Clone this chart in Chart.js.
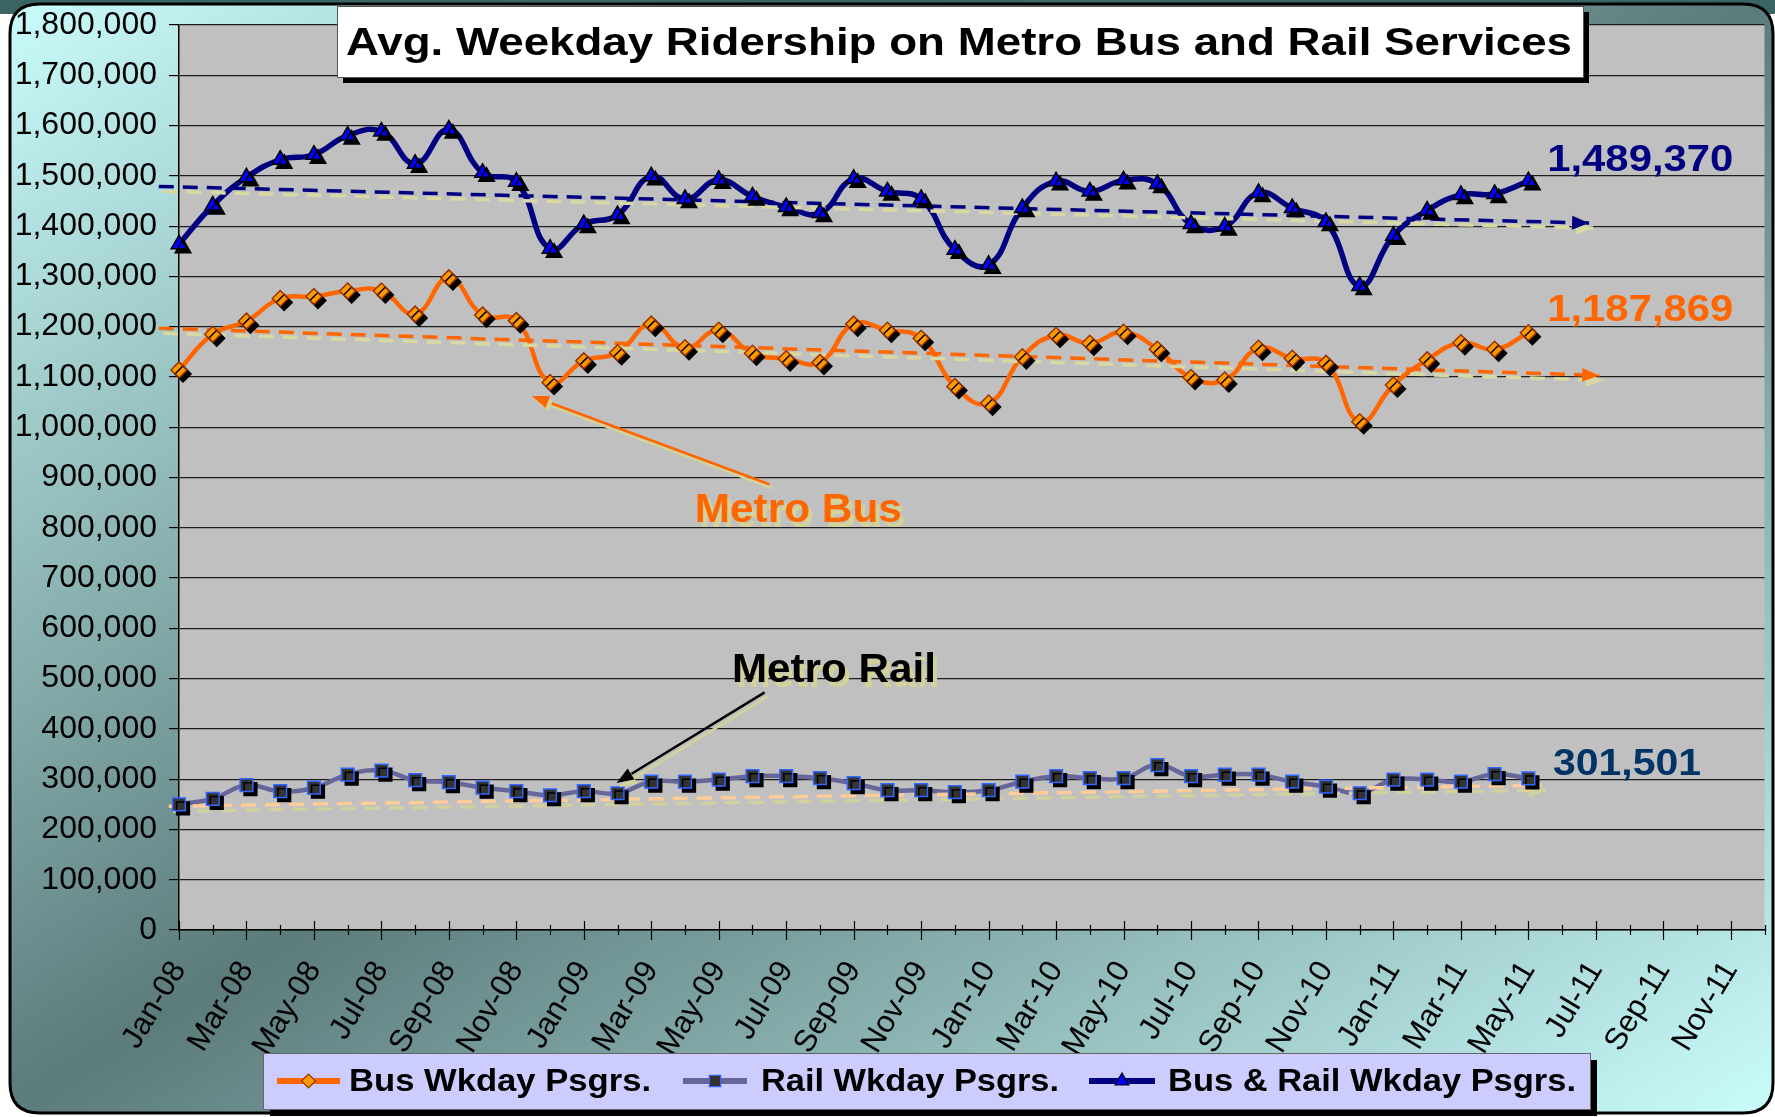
<!DOCTYPE html>
<html>
<head>
<meta charset="utf-8">
<title>Avg. Weekday Ridership on Metro Bus and Rail Services</title>
<script src="https://cdn.jsdelivr.net/npm/chart.js@4.4.1/dist/chart.umd.min.js"></script>
<style>
  html, body { margin: 0; padding: 0; background: #fff; }
  canvas { display: block; }
</style>
</head>
<body>
<canvas id="ridership" width="1775" height="1117"></canvas>
<script>
// month categories on the x axis (Jan-08 .. Dec-11)
const months = [
  'Jan-08', 'Feb-08', 'Mar-08', 'Apr-08', 'May-08', 'Jun-08', 'Jul-08', 'Aug-08', 'Sep-08', 'Oct-08', 'Nov-08', 'Dec-08',
  'Jan-09', 'Feb-09', 'Mar-09', 'Apr-09', 'May-09', 'Jun-09', 'Jul-09', 'Aug-09', 'Sep-09', 'Oct-09', 'Nov-09', 'Dec-09',
  'Jan-10', 'Feb-10', 'Mar-10', 'Apr-10', 'May-10', 'Jun-10', 'Jul-10', 'Aug-10', 'Sep-10', 'Oct-10', 'Nov-10', 'Dec-10',
  'Jan-11', 'Feb-11', 'Mar-11', 'Apr-11', 'May-11', 'Jun-11', 'Jul-11', 'Aug-11', 'Sep-11', 'Oct-11', 'Nov-11', 'Dec-11'
];

// avg weekday passengers, Jan-08 .. May-11
const busRiders = [
  1114000, 1185000, 1211000, 1256000, 1260000, 1271000, 1271000, 1225000, 1297000, 1223000, 1212000, 1089000,
  1132000, 1148000, 1205000, 1158000, 1193000, 1147000, 1136000, 1129000, 1205000, 1193000, 1177000, 1081000,
  1048000, 1140000, 1183000, 1167000, 1189000, 1155000, 1099000, 1094000, 1157000, 1137000, 1127000, 1011000,
  1084000, 1134000, 1168000, 1155000, 1187869
];
const railRiders = [
  250000, 261000, 288000, 276000, 283000, 309000, 317000, 298000, 294000, 283000, 276000, 268000,
  276000, 272000, 295000, 295000, 299000, 306000, 306000, 302000, 292000, 278000, 278000, 274000,
  278000, 295000, 306000, 302000, 302000, 328000, 306000, 309000, 309000, 295000, 285000, 272000,
  299000, 299000, 295000, 310000, 301501
];
const totalRiders = [
  1364000, 1441000, 1497000, 1532000, 1542000, 1580000, 1588000, 1524000, 1592000, 1506000, 1488000, 1355000,
  1404000, 1422000, 1499000, 1454000, 1492000, 1459000, 1438000, 1426000, 1494000, 1469000, 1454000, 1353000,
  1323000, 1436000, 1489000, 1469000, 1491000, 1484000, 1404000, 1399000, 1466000, 1436000, 1408000, 1281000,
  1381000, 1431000, 1462000, 1464000, 1489370
];

// linear trend lines: [month index, value] at start and arrow tip
const totalTrend = [[-0.6, 1479000], [41.8, 1406000]];
const busTrend = [[-0.6, 1197000], [42.1, 1103000]];
const railTrend = [[-0.3, 246000], [40.4, 288000]];

const seriesNames = ['Bus Wkday Psgrs.', 'Rail Wkday Psgrs.', 'Bus & Rail Wkday Psgrs.'];
const chartTitle = 'Avg. Weekday Ridership on Metro Bus and Rail Services';

const FONT = "'Liberation Sans', Arial, sans-serif";
Chart.defaults.font.family = FONT;
Chart.defaults.color = '#000';

const toPoints = arr => arr.map((v, i) => ({ x: i, y: v }));
const toTrend = arr => arr.map(([x, y]) => ({ x, y }));

const pointSet = (data, style, radius, fill, border) => ({
  data: toPoints(data), showLine: false, pointStyle: style,
  pointRadius: radius, pointHoverRadius: radius,
  pointBackgroundColor: fill, pointBorderColor: border, pointBorderWidth: 1.5,
  clip: false, shadow: { color: '#000', x: 4, y: 4 }
});
const lineSet = (data, color, width) => ({
  data: toPoints(data), borderColor: color, borderWidth: width,
  pointRadius: 0, tension: 0.45, fill: false, clip: 8
});
const trendSet = (data, color, shade) => ({
  data: toTrend(data), borderColor: color, borderWidth: 3.5, borderDash: [15, 9],
  pointRadius: 0, tension: 0, fill: false, clip: false,
  shadow: { color: shade, x: 4, y: 5 }, arrow: color
});

// text notes placed in data coordinates (month index, value)
const notes = [
  { text: '1,489,370', x: 40.56, y: 1530000, w: 186, size: 36, color: '#000080' },
  { text: '1,187,869', x: 40.56, y: 1231000, w: 186, size: 36, color: '#ff6600' },
  { text: '301,501', x: 40.73, y: 328500, w: 148, size: 36, color: '#003366' },
  { text: 'Metro Bus', x: 15.29, y: 834000, w: 207, size: 40, color: '#ff6600', shade: '#d2d29a' },
  { text: 'Metro Rail', x: 16.39, y: 515000, w: 204, size: 40, color: '#000', shade: '#d2d29a' }
];
const pointers = [
  { from: [17.5, 886500], to: [10.46, 1062000], color: '#ff6600' },
  { from: [17.36, 472500], to: [12.97, 292500], color: '#000' }
];

function fitText(ctx, text, x, y, w) {
  const m = ctx.measureText(text).width;
  ctx.save();
  ctx.translate(x, y);
  ctx.scale(w / m, 1);
  ctx.textAlign = 'left';
  ctx.fillText(text, 0, 0);
  ctx.restore();
}

function arrowHead(ctx, x1, y1, x2, y2, len, wid, color) {
  const ang = Math.atan2(y2 - y1, x2 - x1);
  ctx.save();
  ctx.translate(x2, y2);
  ctx.rotate(ang);
  ctx.beginPath();
  ctx.moveTo(0, 0);
  ctx.lineTo(-len, -wid / 2);
  ctx.lineTo(-len, wid / 2);
  ctx.closePath();
  ctx.fillStyle = color;
  ctx.fill();
  ctx.restore();
}

function roundRectPath(ctx, x, y, w, h, r) {
  ctx.beginPath();
  ctx.moveTo(x + r, y);
  ctx.lineTo(x + w - r, y);
  ctx.quadraticCurveTo(x + w, y, x + w, y + r);
  ctx.lineTo(x + w, y + h - r);
  ctx.quadraticCurveTo(x + w, y + h, x + w - r, y + h);
  ctx.lineTo(x + r, y + h);
  ctx.quadraticCurveTo(x, y + h, x, y + h - r);
  ctx.lineTo(x, y + r);
  ctx.quadraticCurveTo(x, y, x + r, y);
  ctx.closePath();
}

const decor = {
  id: 'decor',
  beforeDraw(chart) {
    const { ctx, chartArea: a, width: W, height: H } = chart;
    ctx.save();
    ctx.fillStyle = '#fff';
    ctx.fillRect(0, 0, W, H);
    ctx.fillStyle = '#3b6565';
    ctx.fillRect(0, 0, W, 14);
    roundRectPath(ctx, 10, 4, W - 12, H - 8, 30);
    ctx.save();
    ctx.scale(W, H);
    const g = ctx.createLinearGradient(0, 0, 1, 1);
    g.addColorStop(0, '#cbfdfd');
    g.addColorStop(0.5, '#5c7b7b');
    g.addColorStop(1, '#cbfdfd');
    ctx.fillStyle = g;
    ctx.fill();
    ctx.restore();
    ctx.lineWidth = 3;
    ctx.strokeStyle = '#000';
    ctx.stroke();
    ctx.fillStyle = '#c0c0c0';
    ctx.fillRect(a.left, a.top, a.right - a.left, a.bottom - a.top);
    ctx.restore();
  },
  beforeDatasetDraw(chart, args) {
    const s = chart.data.datasets[args.index].shadow;
    if (!s) return;
    const ctx = chart.ctx;
    ctx.save();
    ctx.shadowColor = s.color;
    ctx.shadowOffsetX = s.x;
    ctx.shadowOffsetY = s.y;
    ctx.shadowBlur = 0;
  },
  afterDatasetDraw(chart, args) {
    const ds = chart.data.datasets[args.index];
    if (!ds.shadow) return;
    const ctx = chart.ctx;
    if (ds.arrow) {
      const pts = chart.getDatasetMeta(args.index).data;
      const p1 = pts[pts.length - 2], p2 = pts[pts.length - 1];
      arrowHead(ctx, p1.x, p1.y, p2.x, p2.y, 17, 14, ds.arrow);
    }
    ctx.restore();
  },
  afterDatasetsDraw(chart) {
    const { ctx, scales: { x, y } } = chart;
    ctx.save();
    // pointer arrows
    pointers.forEach(p => {
      const x1 = x.getPixelForValue(p.from[0]), y1 = y.getPixelForValue(p.from[1]);
      const x2 = x.getPixelForValue(p.to[0]), y2 = y.getPixelForValue(p.to[1]);
      ctx.save();
      ctx.shadowColor = '#d2d29a';
      ctx.shadowOffsetX = 3;
      ctx.shadowOffsetY = 4;
      ctx.strokeStyle = p.color;
      ctx.lineWidth = 2.5;
      const ang = Math.atan2(y2 - y1, x2 - x1);
      ctx.beginPath();
      ctx.moveTo(x1, y1);
      ctx.lineTo(x2 - Math.cos(ang) * 10, y2 - Math.sin(ang) * 10);
      ctx.stroke();
      arrowHead(ctx, x1, y1, x2, y2, 17, 13, p.color);
      ctx.restore();
    });
    // text notes
    ctx.textBaseline = 'middle';
    notes.forEach(n => {
      const px = x.getPixelForValue(n.x), py = y.getPixelForValue(n.y);
      ctx.font = `bold ${n.size}px ${FONT}`;
      if (n.shade) {
        ctx.fillStyle = n.shade;
        fitText(ctx, n.text, px + 4, py + 5, n.w);
      }
      ctx.fillStyle = n.color;
      fitText(ctx, n.text, px, py, n.w);
    });
    ctx.restore();
  },
  afterDraw(chart) {
    const { ctx, scales: { x }, chartArea: a } = chart;
    ctx.save();
    // month tick marks across the x axis
    ctx.strokeStyle = '#000';
    ctx.lineWidth = 1.2;
    for (let i = 0; i < months.length; i++) {
      const px = Math.round(x.getPixelForValue(i)) + 0.5;
      const major = i % 2 === 0;
      ctx.beginPath();
      ctx.moveTo(px, a.bottom - (major ? 9 : 5));
      ctx.lineTo(px, a.bottom + (major ? 10 : 5));
      ctx.stroke();
    }

    // title box
    ctx.fillStyle = '#000';
    ctx.fillRect(343, 12, 1246, 71);
    ctx.fillStyle = '#fff';
    ctx.fillRect(337, 6, 1246, 71);
    ctx.strokeStyle = '#555';
    ctx.lineWidth = 1;
    ctx.strokeRect(337.5, 6.5, 1246, 71);
    ctx.fillStyle = '#000';
    ctx.font = `bold 39px ${FONT}`;
    ctx.textBaseline = 'alphabetic';
    fitText(ctx, chartTitle, 346, 55, 1226);

    // legend
    const lx = 263, ly = 1053, lw = 1327, lh = 56;
    ctx.fillStyle = '#000';
    ctx.fillRect(lx + 7, ly + 7, lw, lh);
    ctx.fillStyle = '#ccccff';
    ctx.fillRect(lx, ly, lw, lh);
    ctx.strokeStyle = '#666';
    ctx.strokeRect(lx + 0.5, ly + 0.5, lw, lh);
    const cy = ly + lh / 2;
    const items = [
      { x0: 277, x1: 340, color: '#ff6600', style: 'rectRot', r: 7, fill: '#ff9900', border: '#993300', tx: 349, tw: 302 },
      { x0: 683, x1: 747, color: '#666699', style: 'rect', r: 8, fill: '#333333', border: '#3366ff', tx: 761, tw: 298 },
      { x0: 1089, x1: 1155, color: '#000080', style: 'triangle', r: 8, fill: '#0000ff', border: '#000', tx: 1168, tw: 408 }
    ];
    items.forEach((it, i) => {
      ctx.strokeStyle = it.color;
      ctx.lineWidth = 6;
      ctx.beginPath();
      ctx.moveTo(it.x0, cy);
      ctx.lineTo(it.x1, cy);
      ctx.stroke();
      ctx.fillStyle = it.fill;
      ctx.strokeStyle = it.border;
      ctx.lineWidth = 1.2;
      Chart.helpers.drawPoint(ctx, { pointStyle: it.style, rotation: 0, radius: it.r, borderWidth: 1.2 }, (it.x0 + it.x1) / 2, cy);
      ctx.fillStyle = '#000';
      ctx.font = `bold 32px ${FONT}`;
      ctx.textBaseline = 'middle';
      fitText(ctx, seriesNames[i], it.tx, cy + 1, it.tw);
    });
    ctx.restore();
  }
};

new Chart(document.getElementById('ridership'), {
  type: 'line',
  data: {
    datasets: [
      pointSet(totalRiders, 'triangle', 9, '#0000ff', '#000000'),
      pointSet(busRiders, 'rectRot', 8, '#ff9900', '#993300'),
      pointSet(railRiders, 'rect', 9, '#333333', '#3366ff'),
      trendSet(totalTrend, '#000080', '#d8d8a4'),
      trendSet(busTrend, '#ff6600', '#d8d8a4'),
      trendSet(railTrend, '#ffcc99', '#d0d0a0'),
      lineSet(totalRiders, '#000080', 5.5),
      lineSet(busRiders, '#ff6600', 4.5),
      lineSet(railRiders, '#666699', 4.5)
    ]
  },
  options: {
    responsive: false,
    animation: false,
    devicePixelRatio: 1,
    layout: { padding: { top: 25, right: 9, left: 0, bottom: 0 } },
    plugins: {
      legend: { display: false },
      title: { display: false },
      tooltip: { enabled: false }
    },
    events: [],
    scales: {
      x: {
        type: 'linear',
        min: 0,
        max: months.length - 1,
        afterFit: s => { s.height = 187; s.paddingLeft = 0; s.paddingRight = 0; },
        grid: { display: true, drawOnChartArea: false, drawTicks: false },
        border: { display: true, color: '#000', width: 1.5 },
        ticks: {
          stepSize: 1,
          autoSkip: false,
          minRotation: 59,
          maxRotation: 59,
          padding: 25,
          font: { size: 31 },
          color: '#000',
          callback: v => (Number.isInteger(v) && v % 2 === 0 ? months[v] : '')
        }
      },
      y: {
        min: 0,
        max: 1800000,
        afterFit: s => { s.width = 179; s.paddingTop = 0; s.paddingBottom = 0; },
        grid: { color: '#1e1e1e', lineWidth: 1.2, tickLength: 10, tickColor: '#000' },
        border: { display: true, color: '#000', width: 1.5 },
        ticks: {
          stepSize: 100000,
          padding: 12,
          font: { size: 32 },
          color: '#000',
          callback: v => v.toLocaleString('en-US')
        }
      }
    }
  },
  plugins: [decor]
});
</script>
</body>
</html>
